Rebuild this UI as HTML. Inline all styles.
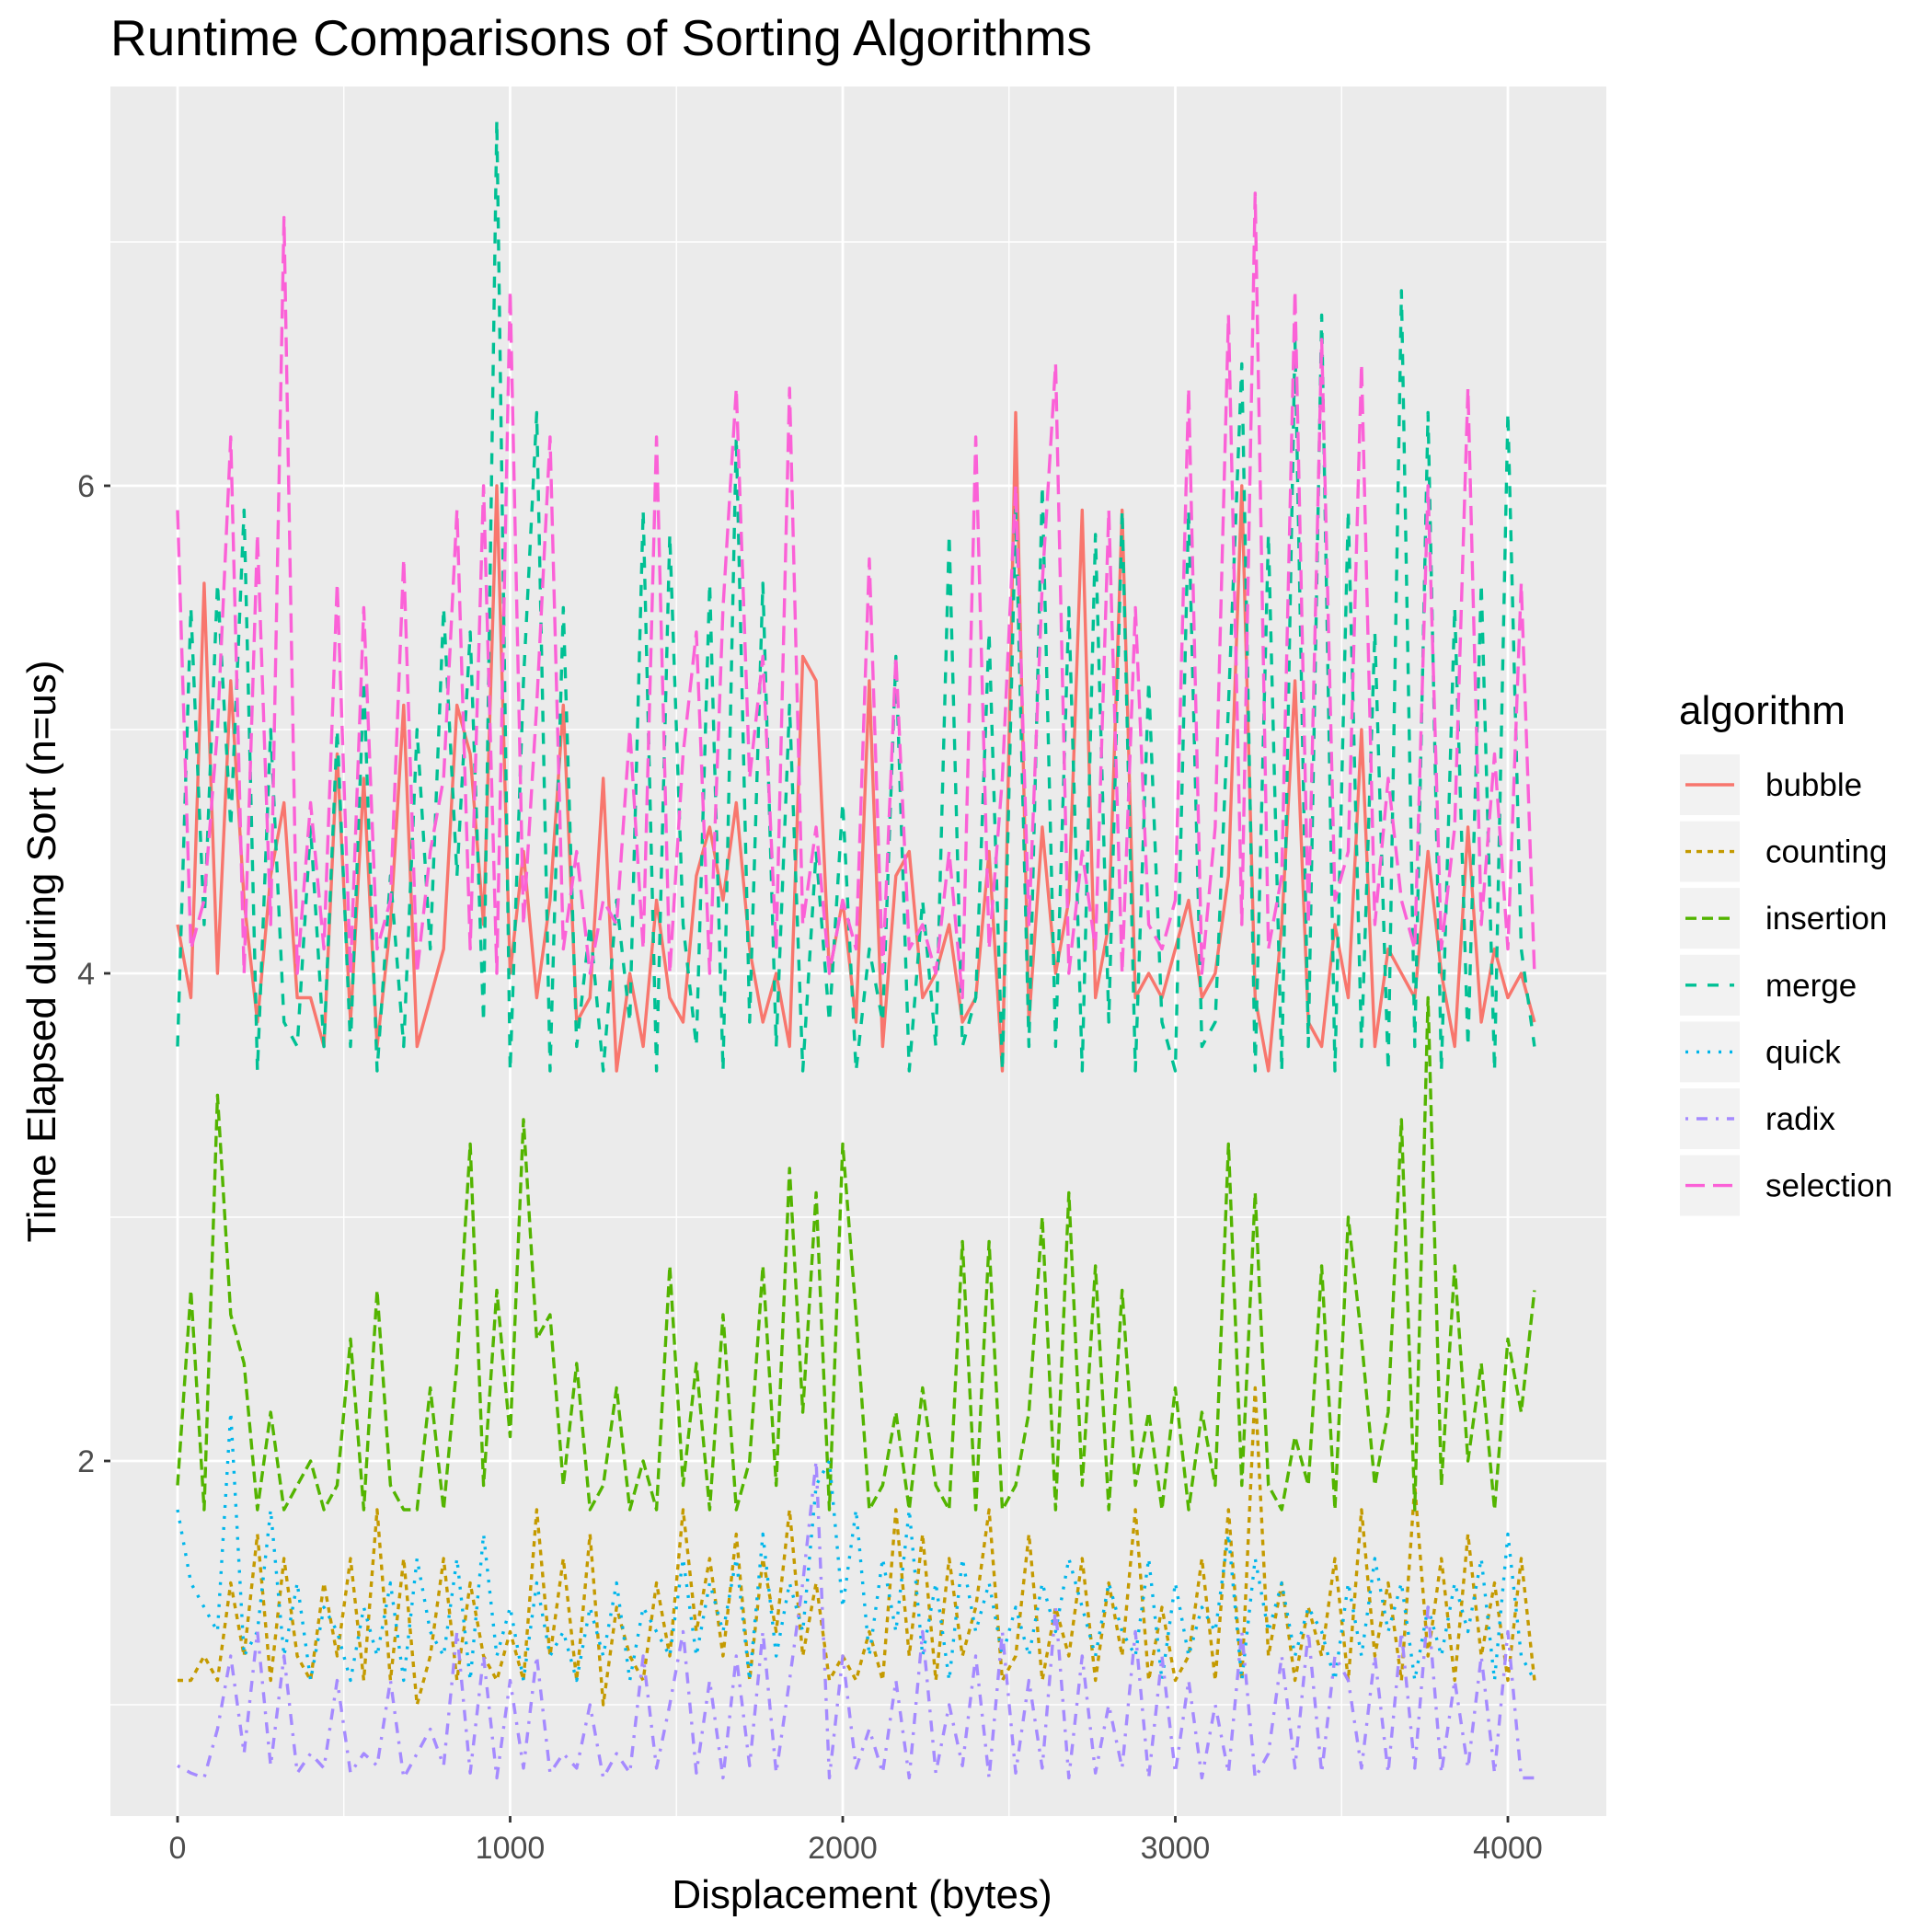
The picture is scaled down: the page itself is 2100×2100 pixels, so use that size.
<!DOCTYPE html>
<html><head><meta charset="utf-8"><style>
html,body{margin:0;padding:0;background:#fff;}
svg{display:block;font-family:"Liberation Sans",Arial,sans-serif;}
</style></head><body>
<svg id="chart" width="2100" height="2100" viewBox="0 0 2100 2100" xmlns="http://www.w3.org/2000/svg">
<text x="120" y="60" font-size="55" fill="#000">Runtime Comparisons of Sorting Algorithms</text>
<rect x="120" y="94" width="1626" height="1880" fill="#EBEBEB"/>
<g id="grid"></g>
<g id="series"></g>
<g id="axes"></g>
<text x="937" y="2074" font-size="44" text-anchor="middle" fill="#000">Displacement (bytes)</text>
<text transform="translate(60,1034) rotate(-90)" font-size="44" text-anchor="middle" fill="#000">Time Elapsed during Sort (n=us)</text>
<g id="legend"></g>
</svg>
<script>
const xStep = 40;
const xTicks = [0, 1000, 2000, 3000, 4000];
const yTicks = [2, 4, 6];
const algorithms = ["bubble","counting","insertion","merge","quick","radix","selection"];
const bubble = [4.2,3.9,5.6,4.0,5.2,4.3,3.8,4.4,4.7,3.9,3.9,3.7,4.9,3.8,4.8,3.7,4.2,5.1,3.7,3.9,4.1,5.1,4.9,4.2,6.0,4.0,4.5,3.9,4.3,5.1,3.8,3.9,4.8,3.6,4.0,3.7,4.3,3.9,3.8,4.4,4.6,4.3,4.7,4.1,3.8,4.0,3.7,5.3,5.2,4.0,4.3,3.8,5.2,3.7,4.4,4.5,3.9,4.0,4.2,3.8,3.9,4.5,3.6,6.3,3.8,4.6,4.0,4.3,5.9,3.9,4.2,5.9,3.9,4.0,3.9,4.1,4.3,3.9,4.0,4.4,6.0,3.9,3.6,4.2,5.2,3.8,3.7,4.2,3.9,5.0,3.7,4.1,4.0,3.9,4.5,4.0,3.7,4.6,3.8,4.1,3.9,4.0,3.8];
const counting = [1.1,1.1,1.2,1.1,1.5,1.2,1.7,1.1,1.6,1.2,1.1,1.5,1.2,1.6,1.1,1.8,1.1,1.6,1.0,1.2,1.6,1.1,1.5,1.2,1.1,1.3,1.1,1.8,1.2,1.6,1.1,1.7,1.0,1.4,1.2,1.1,1.5,1.2,1.8,1.3,1.6,1.2,1.7,1.1,1.6,1.3,1.8,1.2,1.5,1.1,1.2,1.1,1.3,1.1,1.8,1.2,1.7,1.1,1.6,1.2,1.4,1.8,1.1,1.2,1.7,1.1,1.4,1.2,1.6,1.1,1.5,1.2,1.8,1.1,1.4,1.1,1.2,1.6,1.1,1.8,1.1,2.3,1.2,1.5,1.1,1.4,1.2,1.6,1.1,1.8,1.2,1.5,1.1,1.9,1.2,1.6,1.1,1.7,1.2,1.5,1.1,1.6,1.1];
const insertion = [1.9,2.7,1.8,3.5,2.6,2.4,1.8,2.2,1.8,1.9,2.0,1.8,1.9,2.5,1.8,2.7,1.9,1.8,1.8,2.3,1.8,2.4,3.3,1.9,2.7,2.1,3.4,2.5,2.6,1.9,2.4,1.8,1.9,2.3,1.8,2.0,1.8,2.8,1.9,2.4,1.8,2.6,1.8,2.0,2.8,1.9,3.2,2.2,3.1,1.8,3.3,2.6,1.8,1.9,2.2,1.8,2.3,1.9,1.8,2.9,1.8,2.9,1.8,1.9,2.2,3.0,1.8,3.1,1.9,2.8,1.8,2.7,1.9,2.2,1.8,2.3,1.8,2.2,1.9,3.3,1.9,3.1,1.9,1.8,2.1,1.9,2.8,1.8,3.0,2.5,1.9,2.2,3.4,1.8,3.9,1.9,2.8,2.0,2.4,1.8,2.5,2.2,2.7];
const merge = [3.7,5.5,4.2,5.6,4.6,5.9,3.6,5.0,3.8,3.7,4.6,3.7,5.0,3.7,5.2,3.6,4.4,3.7,5.0,4.1,5.5,4.4,5.4,3.8,7.5,3.6,5.2,6.3,3.6,5.5,3.7,4.2,3.6,4.3,3.8,5.9,3.6,5.8,4.2,3.7,5.6,3.6,6.2,3.8,5.6,3.7,5.1,3.6,4.5,3.8,4.7,3.6,4.1,3.8,5.3,3.6,4.3,3.7,5.8,3.7,3.9,5.4,3.6,5.9,3.7,6.0,3.7,5.5,3.6,5.8,3.8,5.9,3.6,5.2,3.8,3.6,5.9,3.7,3.8,5.1,6.5,3.6,5.8,3.6,6.6,3.7,6.7,3.6,5.9,3.7,5.4,3.6,6.8,3.7,6.3,3.6,5.5,3.7,5.6,3.6,6.3,4.1,3.7];
const quick = [1.8,1.5,1.4,1.3,2.2,1.2,1.3,1.8,1.2,1.5,1.1,1.4,1.3,1.1,1.4,1.2,1.5,1.1,1.6,1.3,1.2,1.6,1.1,1.7,1.2,1.4,1.1,1.5,1.2,1.3,1.1,1.4,1.2,1.5,1.1,1.4,1.3,1.2,1.6,1.2,1.5,1.3,1.6,1.1,1.7,1.2,1.5,1.3,1.9,2.0,1.4,1.8,1.2,1.6,1.3,1.8,1.2,1.5,1.1,1.6,1.3,1.5,1.2,1.4,1.2,1.5,1.3,1.6,1.4,1.2,1.5,1.3,1.2,1.6,1.1,1.5,1.2,1.4,1.3,1.7,1.1,1.6,1.3,1.5,1.2,1.4,1.3,1.1,1.5,1.2,1.6,1.3,1.5,1.1,1.4,1.2,1.5,1.3,1.6,1.1,1.7,1.2,1.1];
const radix = [0.75,0.72,0.7,0.9,1.2,0.8,1.3,0.75,1.2,0.72,0.8,0.74,1.1,0.72,0.8,0.75,1.1,0.7,0.8,0.9,0.75,1.3,0.72,1.2,0.7,1.1,0.74,1.2,0.72,0.8,0.74,1.0,0.7,0.8,0.72,1.2,0.74,1.0,1.3,0.72,1.1,0.7,1.2,0.75,1.3,0.72,1.1,1.5,2.0,0.7,1.2,0.74,0.9,0.72,1.1,0.7,1.3,0.72,1.0,0.75,1.2,0.7,1.3,0.72,1.1,0.74,1.4,0.7,1.2,0.72,1.0,0.74,1.3,0.7,1.2,0.72,1.1,0.7,1.0,0.72,1.3,0.7,0.8,1.2,0.74,1.3,0.72,1.2,1.1,0.74,1.2,0.72,1.3,0.74,1.4,0.72,1.1,0.74,1.2,0.72,1.3,0.7,0.7];
const selection = [5.9,4.1,4.3,5.0,6.2,4.0,5.8,4.2,7.1,4.0,4.7,4.1,5.6,4.0,5.5,4.1,4.3,5.7,4.0,4.5,4.8,5.9,4.1,6.0,4.0,6.8,4.2,5.1,6.2,4.1,4.5,4.0,4.3,4.2,5.0,4.1,6.2,4.0,4.9,5.4,4.0,5.5,6.4,4.8,5.3,4.1,6.4,4.2,4.6,4.0,4.3,4.1,5.7,4.0,5.3,4.1,4.2,4.0,4.5,3.9,6.2,4.1,4.8,6.0,4.2,5.6,6.5,4.0,4.5,4.1,5.9,4.0,5.5,4.2,4.1,4.3,6.4,4.0,4.6,6.7,4.2,7.2,4.1,4.4,6.8,4.2,6.6,4.3,4.5,6.5,4.2,4.8,4.3,4.1,6.0,4.1,4.6,6.4,4.2,4.9,4.1,5.6,4.0];
const seriesValues = [bubble,counting,insertion,merge,quick,radix,selection];
const colors = ["#F8766D","#C49A00","#53B400","#00C094","#00B6EB","#A58AFF","#FB61D7"];
const dashes = ["", "6,6", "12,6", "12,12", "3,9", "3,9,12,9", "21,9"];

const NS = "http://www.w3.org/2000/svg";
const px0 = 193, pxPer = 0.3615;
const py2 = 1588, pyPer = 265;
function xs(v){ return px0 + v*pxPer; }
function ys(v){ return py2 - (v-2)*pyPer; }
function mk(tag, attrs, parent){ const e=document.createElementNS(NS,tag); for(const k in attrs) e.setAttribute(k,attrs[k]); parent.appendChild(e); return e; }

const grid = document.getElementById('grid');
[1,3,5,7].forEach(v=>{ const l=mk('line',{x1:120,x2:1746,y1:ys(v),y2:ys(v),stroke:'#fff','stroke-width':1.4},grid);

 });
[500,1500,2500,3500].forEach(v=>{ const l=mk('line',{x1:xs(v),x2:xs(v),y1:94,y2:1974,stroke:'#fff','stroke-width':1.4},grid);

 });
yTicks.forEach(v=>{ const l=mk('line',{x1:120,x2:1746,y1:ys(v),y2:ys(v),stroke:'#fff','stroke-width':2.8},grid);

 });
xTicks.forEach(v=>{ const l=mk('line',{x1:xs(v),x2:xs(v),y1:94,y2:1974,stroke:'#fff','stroke-width':2.8},grid);

 });

const axes = document.getElementById('axes');
xTicks.forEach(v=>{
 const t=mk('line',{x1:xs(v),x2:xs(v),y1:1974,y2:1981,stroke:'#333','stroke-width':2.8},axes);
 
 
 const tx=mk('text',{x:xs(v),y:2020,'font-size':34,'text-anchor':'middle',fill:'#4D4D4D'},axes);
 tx.textContent=v;
 
 
});
yTicks.forEach(v=>{
 const t=mk('line',{x1:113,x2:120,y1:ys(v),y2:ys(v),stroke:'#333','stroke-width':2.8},axes);
 
 
 const tx=mk('text',{x:103,y:ys(v)+12,'font-size':34,'text-anchor':'end',fill:'#4D4D4D'},axes);
 tx.textContent=v;
 
 
});

const sg = document.getElementById('series');
seriesValues.forEach((vals,si)=>{
 const d = vals.map((v,i)=>(i?'L':'M')+xs(i*xStep).toFixed(1)+','+ys(v).toFixed(1)).join(' ');
 const p = mk('path',{d:d,fill:'none',stroke:colors[si],'stroke-width':3.4,'stroke-linejoin':'round'},sg);
 if(dashes[si]) p.setAttribute('stroke-dasharray',dashes[si]);
 
 
});

const lg = document.getElementById('legend');
const lt = mk('text',{x:1825,y:787,'font-size':44,fill:'#000'},lg);
lt.textContent='algorithm';


algorithms.forEach((a,i)=>{
 const cy = 853 + i*72.6;
 const g = mk('g',{},lg);
 
 
 mk('rect',{x:1826,y:cy-33,width:65,height:66,fill:'#F2F2F2'},g);
 const l=mk('line',{x1:1832,x2:1885,y1:cy,y2:cy,stroke:colors[i],'stroke-width':3.4},g);
 if(dashes[i]) l.setAttribute('stroke-dasharray',dashes[i]);
 const t=mk('text',{x:1919,y:cy+12,'font-size':35,fill:'#000'},g);
 t.textContent=a;
});
</script>
</body></html>
